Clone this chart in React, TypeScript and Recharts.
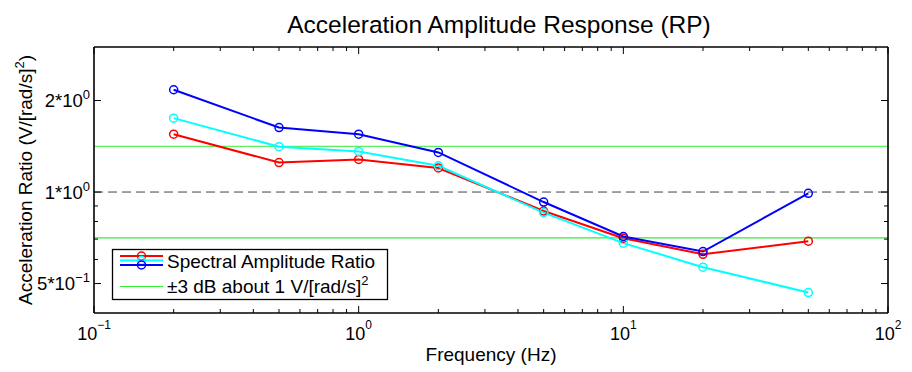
import React from "react";
import { Line, LineChart, ReferenceLine, XAxis, YAxis } from "recharts";

// measured sweep, one list per trace
const frequencies = [0.2, 0.5, 1, 2, 5, 10, 20, 50];
const ratioRed = [1.55, 1.25, 1.28, 1.2, 0.866, 0.705, 0.624, 0.689];
const ratioCyan = [1.75, 1.41, 1.36, 1.22, 0.856, 0.679, 0.566, 0.467];
const ratioBlue = [2.17, 1.63, 1.55, 1.35, 0.927, 0.714, 0.637, 0.99];

// +/-3 dB band about 1
const bandLevels = [0.7071, 1.4142];
const nominalLevel = 1;

const xMajorTicks = [0.1, 1, 10, 100];
const xMinorTicks = [
  0.2, 0.3, 0.4, 0.5, 0.6, 0.7, 0.8, 0.9,
  2, 3, 4, 5, 6, 7, 8, 9,
  20, 30, 40, 50, 60, 70, 80, 90,
];
const yMajorTicks = [0.5, 1, 2];
const yMinorTicks = [0.6, 0.7, 0.8, 0.9];

const series = [
  { key: "red", color: "#ff0000" },
  { key: "cyan", color: "#00ffff" },
  { key: "blue", color: "#0000ff" },
];

const data = frequencies.map((f, i) => ({
  freq: f,
  red: ratioRed[i],
  cyan: ratioCyan[i],
  blue: ratioBlue[i],
}));

const FONT = "'Liberation Sans', Arial, Helvetica, sans-serif";
const xTicks = [...xMajorTicks, ...xMinorTicks].sort((a, b) => a - b);
const yTicks = [...yMajorTicks, ...yMinorTicks].sort((a, b) => a - b);
const frame = { stroke: "#000", strokeWidth: 1.6 };

const isMajor = (list: number[], v: number) => list.some((t) => Math.abs(t - v) < 1e-9);

const BottomTick = (props: any) => {
  const { x, y, payload } = props;
  const v = payload.value;
  const major = isMajor(xMajorTicks, v);
  const exp = Math.round(Math.log10(v));
  return (
    <g>
      <line x1={x} x2={x} y1={y} y2={y - (major ? 7 : 4)} stroke="#000" />
      {major && (
        <text x={x} y={y + 27} textAnchor="middle" fontSize={18} fontFamily={FONT} fill="#000">
          10
          <tspan dy={-11} fontSize={12}>
            {exp < 0 ? "\u2212" + Math.abs(exp) : exp}
          </tspan>
        </text>
      )}
    </g>
  );
};

const TopTick = (props: any) => {
  const { x, y, payload } = props;
  const major = isMajor(xMajorTicks, payload.value);
  return <line x1={x} x2={x} y1={y} y2={y + (major ? 7 : 4)} stroke="#000" />;
};

const LeftTick = (props: any) => {
  const { x, y, payload } = props;
  const v = payload.value;
  const major = isMajor(yMajorTicks, v);
  const exp = Math.floor(Math.log10(v) + 1e-9);
  const mant = Math.round(v / Math.pow(10, exp));
  return (
    <g>
      <line x1={x} x2={x + (major ? 7 : 4)} y1={y} y2={y} stroke="#000" />
      {major && (
        <text x={x - 4} y={y + 6.5} textAnchor="end" fontSize={18.5} fontFamily={FONT} fill="#000">
          {mant + "*10"}
          <tspan dy={-8} fontSize={13}>
            {exp < 0 ? "\u2212" + Math.abs(exp) : exp}
          </tspan>
        </text>
      )}
    </g>
  );
};

const RightTick = (props: any) => {
  const { x, y, payload } = props;
  const major = isMajor(yMajorTicks, payload.value);
  return <line x1={x} x2={x - (major ? 7 : 4)} y1={y} y2={y} stroke="#000" />;
};

const Overlay = () => (
  <svg
    width={912}
    height={372}
    style={{ position: "absolute", left: 0, top: 0, pointerEvents: "none" }}
    fontFamily={FONT}
  >
    <text x={499} y={33} textAnchor="middle" fontSize={24.5} fill="#000">
      Acceleration Amplitude Response (RP)
    </text>
    <text x={491} y={361} textAnchor="middle" fontSize={19} fill="#000">
      Frequency (Hz)
    </text>
    <text x={32} y={180} textAnchor="middle" fontSize={19} fill="#000" transform="rotate(-90 32 180)">
      Acceleration Ratio (V/[rad/s]
      <tspan dy={-8} fontSize={13}>2</tspan>
      <tspan dy={8}>)</tspan>
    </text>

    {/* legend */}
    <rect x={112.5} y={249.5} width={275} height={50} fill="#fff" stroke="#000" strokeWidth={1.3} />
    {series.map((s, i) => (
      <g key={s.key}>
        <line x1={120} x2={163} y1={256 + i * 4.5} y2={256 + i * 4.5} stroke={s.color} strokeWidth={2} />
        <circle cx={141.5} cy={256 + i * 4.5} r={4} fill="none" stroke={s.color} strokeWidth={1.5} />
      </g>
    ))}
    <text x={167} y={268} fontSize={19} fill="#000">
      Spectral Amplitude Ratio
    </text>
    <line x1={120} x2={163} y1={286.5} y2={286.5} stroke="#33ee33" strokeWidth={1} />
    <text x={167} y={293} fontSize={19} fill="#000">
      ±3 dB about 1 V/[rad/s]
      <tspan dy={-8} fontSize={13}>2</tspan>
    </text>
  </svg>
);

export default function App() {
  return (
    <div style={{ position: "absolute", left: 0, top: 0, width: 912, height: 372, background: "#fff" }}>
      <LineChart width={912} height={372} data={data} margin={{ top: 0, right: 0, bottom: 0, left: 0 }}>
        <ReferenceLine y={bandLevels[1]} stroke="#33ee33" strokeWidth={1} />
        <ReferenceLine y={bandLevels[0]} stroke="#33ee33" strokeWidth={1.3} />
        <ReferenceLine y={nominalLevel} stroke="#444" strokeWidth={1} strokeDasharray="9 5" />
        {series.map((s) => (
          <Line
            key={s.key}
            type="linear"
            dataKey={s.key}
            stroke={s.color}
            strokeWidth={2}
            dot={{ r: 4, fill: "none", stroke: s.color, strokeWidth: 1.5 }}
            activeDot={false}
            isAnimationActive={false}
          />
        ))}
        <XAxis
          dataKey="freq"
          type="number"
          scale="log"
          domain={[0.1, 100]}
          allowDataOverflow
          ticks={xTicks}
          interval={0}
          height={59}
          tickSize={0}
          tickMargin={0}
          tick={<BottomTick />}
          tickLine={false}
          axisLine={frame}
        />
        <XAxis
          xAxisId="top"
          orientation="top"
          dataKey="freq"
          type="number"
          scale="log"
          domain={[0.1, 100]}
          allowDataOverflow
          ticks={xTicks}
          interval={0}
          height={47}
          tickSize={0}
          tickMargin={0}
          tick={<TopTick />}
          tickLine={false}
          axisLine={frame}
        />
        <YAxis
          type="number"
          scale="log"
          domain={[0.4, 3]}
          allowDataOverflow
          ticks={yTicks}
          interval={0}
          width={94}
          tickSize={0}
          tickMargin={0}
          tick={<LeftTick />}
          tickLine={false}
          axisLine={frame}
        />
        <YAxis
          yAxisId="right"
          orientation="right"
          type="number"
          scale="log"
          domain={[0.4, 3]}
          allowDataOverflow
          ticks={yTicks}
          interval={0}
          width={24}
          tickSize={0}
          tickMargin={0}
          tick={<RightTick />}
          tickLine={false}
          axisLine={frame}
        />
      </LineChart>
      <Overlay />
    </div>
  );
}
